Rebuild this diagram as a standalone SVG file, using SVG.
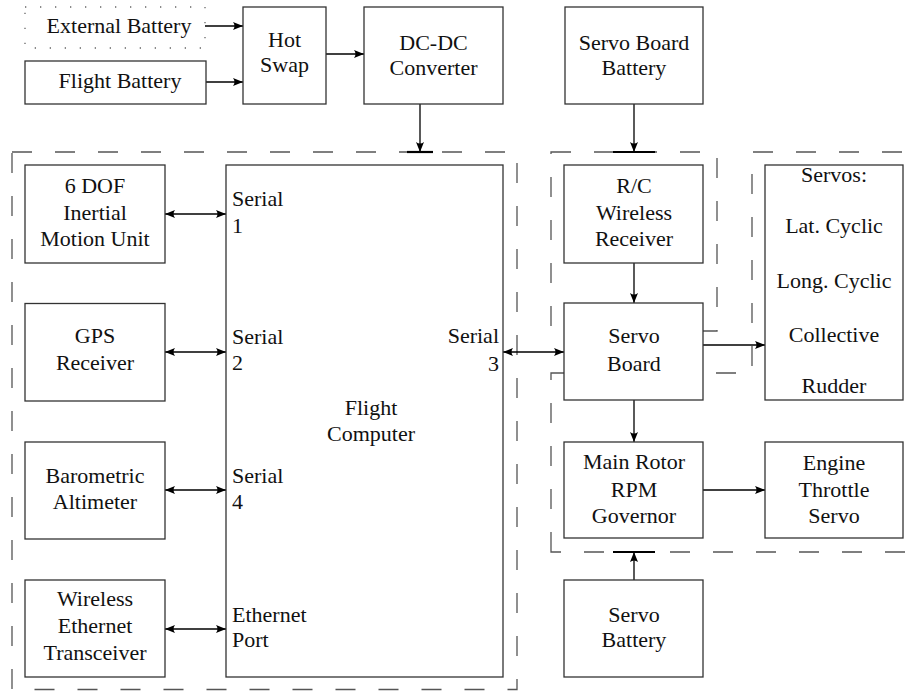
<svg xmlns="http://www.w3.org/2000/svg" width="906" height="691" viewBox="0 0 906 691">
<defs>
<style>
.box{fill:#fff;stroke:#333;stroke-width:1.3}
.dash{fill:none;stroke:#555;stroke-width:1.3;stroke-dasharray:20 23}
.dot{fill:none;stroke:#666;stroke-width:1.3;stroke-dasharray:1.3 13.7}
.ln{fill:none;stroke:#000;stroke-width:1.3}
.bar{stroke:#000;stroke-width:2.2}
</style>
<marker id="ah" viewBox="0 0 10 8" refX="10" refY="4" markerWidth="10" markerHeight="8" markerUnits="userSpaceOnUse" orient="auto-start-reverse">
<path d="M0,0 Q3,4 0,8 L10,4 Z" fill="#000"/>
</marker>
</defs>
<g id="regions">
<rect class="dash" x="12" y="152" width="505" height="537.5"/>
<rect class="dash" x="551" y="152" width="166" height="179"/>
<path class="dash" d="M551,552 V373 H752 V152 H930 V552 Z"/>
<rect class="dot" x="25" y="7" width="180" height="41"/>
</g>
<g id="connectors">
<line class="ln" x1="205" y1="26" x2="243" y2="26" marker-end="url(#ah)"/>
<line class="ln" x1="206" y1="82" x2="243" y2="82" marker-end="url(#ah)"/>
<line class="ln" x1="326" y1="54" x2="364" y2="54" marker-end="url(#ah)"/>
<line class="ln" x1="420" y1="104" x2="420" y2="152" marker-end="url(#ah)"/>
<line class="bar" x1="407" y1="152" x2="433" y2="152"/>
<line class="ln" x1="634" y1="104" x2="634" y2="152" marker-end="url(#ah)"/>
<line class="bar" x1="613" y1="152" x2="655" y2="152"/>
<line class="ln" x1="634" y1="580" x2="634" y2="552" marker-end="url(#ah)"/>
<line class="bar" x1="613" y1="552" x2="655" y2="552"/>
<line class="ln" x1="165" y1="214" x2="226" y2="214" marker-start="url(#ah)" marker-end="url(#ah)"/>
<line class="ln" x1="165" y1="352" x2="226" y2="352" marker-start="url(#ah)" marker-end="url(#ah)"/>
<line class="ln" x1="165" y1="490" x2="226" y2="490" marker-start="url(#ah)" marker-end="url(#ah)"/>
<line class="ln" x1="165" y1="629" x2="226" y2="629" marker-start="url(#ah)" marker-end="url(#ah)"/>
<line class="ln" x1="503" y1="352" x2="564" y2="352" marker-start="url(#ah)" marker-end="url(#ah)"/>
<line class="ln" x1="634" y1="263" x2="634" y2="303" marker-end="url(#ah)"/>
<line class="ln" x1="703" y1="345" x2="765" y2="345" marker-end="url(#ah)"/>
<line class="ln" x1="634" y1="400" x2="634" y2="442" marker-end="url(#ah)"/>
<line class="ln" x1="703" y1="490" x2="765" y2="490" marker-end="url(#ah)"/>
</g>
<g id="ext-battery">
<text x="119" y="33" font-family="Liberation Serif" font-size="22" text-anchor="middle" fill="#111">External Battery</text>
</g>
<g id="flight-battery">
<rect class="box" x="25" y="61" width="181" height="43"/>
<text x="120" y="88" font-family="Liberation Serif" font-size="22" text-anchor="middle" fill="#111">Flight Battery</text>
</g>
<g id="hot-swap">
<rect class="box" x="243" y="7" width="83" height="97"/>
<text x="284.5" y="47" font-family="Liberation Serif" font-size="22" text-anchor="middle" fill="#111">Hot</text>
<text x="284.5" y="72" font-family="Liberation Serif" font-size="22" text-anchor="middle" fill="#111">Swap</text>
</g>
<g id="dcdc">
<rect class="box" x="364" y="7" width="139" height="97"/>
<text x="433.5" y="50" font-family="Liberation Serif" font-size="22" text-anchor="middle" fill="#111">DC-DC</text>
<text x="433.5" y="75" font-family="Liberation Serif" font-size="22" text-anchor="middle" fill="#111">Converter</text>
</g>
<g id="servo-board-battery">
<rect class="box" x="565" y="7" width="138" height="97"/>
<text x="634" y="50" font-family="Liberation Serif" font-size="22" text-anchor="middle" fill="#111">Servo Board</text>
<text x="634" y="75" font-family="Liberation Serif" font-size="22" text-anchor="middle" fill="#111">Battery</text>
</g>
<g id="imu">
<rect class="box" x="25" y="165" width="140" height="98"/>
<text x="95" y="193" font-family="Liberation Serif" font-size="22" text-anchor="middle" fill="#111">6 DOF</text>
<text x="95" y="220" font-family="Liberation Serif" font-size="22" text-anchor="middle" fill="#111">Inertial</text>
<text x="95" y="246" font-family="Liberation Serif" font-size="22" text-anchor="middle" fill="#111">Motion Unit</text>
</g>
<g id="gps">
<rect class="box" x="25" y="303.5" width="140" height="97.5"/>
<text x="95" y="343" font-family="Liberation Serif" font-size="22" text-anchor="middle" fill="#111">GPS</text>
<text x="95" y="370" font-family="Liberation Serif" font-size="22" text-anchor="middle" fill="#111">Receiver</text>
</g>
<g id="baro">
<rect class="box" x="25" y="442" width="140" height="97"/>
<text x="95" y="483" font-family="Liberation Serif" font-size="22" text-anchor="middle" fill="#111">Barometric</text>
<text x="95" y="509" font-family="Liberation Serif" font-size="22" text-anchor="middle" fill="#111">Altimeter</text>
</g>
<g id="wireless-eth">
<rect class="box" x="25" y="580" width="140" height="97"/>
<text x="95" y="606" font-family="Liberation Serif" font-size="22" text-anchor="middle" fill="#111">Wireless</text>
<text x="95" y="633" font-family="Liberation Serif" font-size="22" text-anchor="middle" fill="#111">Ethernet</text>
<text x="95" y="660" font-family="Liberation Serif" font-size="22" text-anchor="middle" fill="#111">Transceiver</text>
</g>
<g id="flight-computer">
<rect class="box" x="226" y="165" width="277" height="512"/>
<text x="232" y="206" font-family="Liberation Serif" font-size="22" fill="#111">Serial</text>
<text x="232" y="233" font-family="Liberation Serif" font-size="22" fill="#111">1</text>
<text x="232" y="344" font-family="Liberation Serif" font-size="22" fill="#111">Serial</text>
<text x="232" y="370" font-family="Liberation Serif" font-size="22" fill="#111">2</text>
<text x="232" y="483" font-family="Liberation Serif" font-size="22" fill="#111">Serial</text>
<text x="232" y="509" font-family="Liberation Serif" font-size="22" fill="#111">4</text>
<text x="232" y="622" font-family="Liberation Serif" font-size="22" fill="#111">Ethernet</text>
<text x="232" y="647" font-family="Liberation Serif" font-size="22" fill="#111">Port</text>
<text x="499" y="343" font-family="Liberation Serif" font-size="22" text-anchor="end" fill="#111">Serial</text>
<text x="499" y="371" font-family="Liberation Serif" font-size="22" text-anchor="end" fill="#111">3</text>
<text x="371" y="415" font-family="Liberation Serif" font-size="22" text-anchor="middle" fill="#111">Flight</text>
<text x="371" y="441" font-family="Liberation Serif" font-size="22" text-anchor="middle" fill="#111">Computer</text>
</g>
<g id="rc-receiver">
<rect class="box" x="564" y="165" width="139" height="98"/>
<text x="634" y="193" font-family="Liberation Serif" font-size="22" text-anchor="middle" fill="#111">R/C</text>
<text x="634" y="220" font-family="Liberation Serif" font-size="22" text-anchor="middle" fill="#111">Wireless</text>
<text x="634" y="246" font-family="Liberation Serif" font-size="22" text-anchor="middle" fill="#111">Receiver</text>
</g>
<g id="servo-board">
<rect class="box" x="564" y="303" width="139" height="97"/>
<text x="634" y="343" font-family="Liberation Serif" font-size="22" text-anchor="middle" fill="#111">Servo</text>
<text x="634" y="371" font-family="Liberation Serif" font-size="22" text-anchor="middle" fill="#111">Board</text>
</g>
<g id="servos">
<rect class="box" x="765" y="165" width="138" height="235"/>
<text x="834" y="182" font-family="Liberation Serif" font-size="22" text-anchor="middle" fill="#111">Servos:</text>
<text x="834" y="233" font-family="Liberation Serif" font-size="22" text-anchor="middle" fill="#111">Lat. Cyclic</text>
<text x="834" y="288" font-family="Liberation Serif" font-size="22" text-anchor="middle" fill="#111">Long. Cyclic</text>
<text x="834" y="342" font-family="Liberation Serif" font-size="22" text-anchor="middle" fill="#111">Collective</text>
<text x="834" y="393" font-family="Liberation Serif" font-size="22" text-anchor="middle" fill="#111">Rudder</text>
</g>
<g id="governor">
<rect class="box" x="564" y="442" width="139" height="96"/>
<text x="634" y="469" font-family="Liberation Serif" font-size="22" text-anchor="middle" fill="#111">Main Rotor</text>
<text x="634" y="497" font-family="Liberation Serif" font-size="22" text-anchor="middle" fill="#111">RPM</text>
<text x="634" y="523" font-family="Liberation Serif" font-size="22" text-anchor="middle" fill="#111">Governor</text>
</g>
<g id="throttle">
<rect class="box" x="765" y="442" width="138" height="96"/>
<text x="834" y="470" font-family="Liberation Serif" font-size="22" text-anchor="middle" fill="#111">Engine</text>
<text x="834" y="497" font-family="Liberation Serif" font-size="22" text-anchor="middle" fill="#111">Throttle</text>
<text x="834" y="523" font-family="Liberation Serif" font-size="22" text-anchor="middle" fill="#111">Servo</text>
</g>
<g id="servo-battery">
<rect class="box" x="564" y="580" width="139" height="97"/>
<text x="634" y="622" font-family="Liberation Serif" font-size="22" text-anchor="middle" fill="#111">Servo</text>
<text x="634" y="647" font-family="Liberation Serif" font-size="22" text-anchor="middle" fill="#111">Battery</text>
</g>
</svg>
